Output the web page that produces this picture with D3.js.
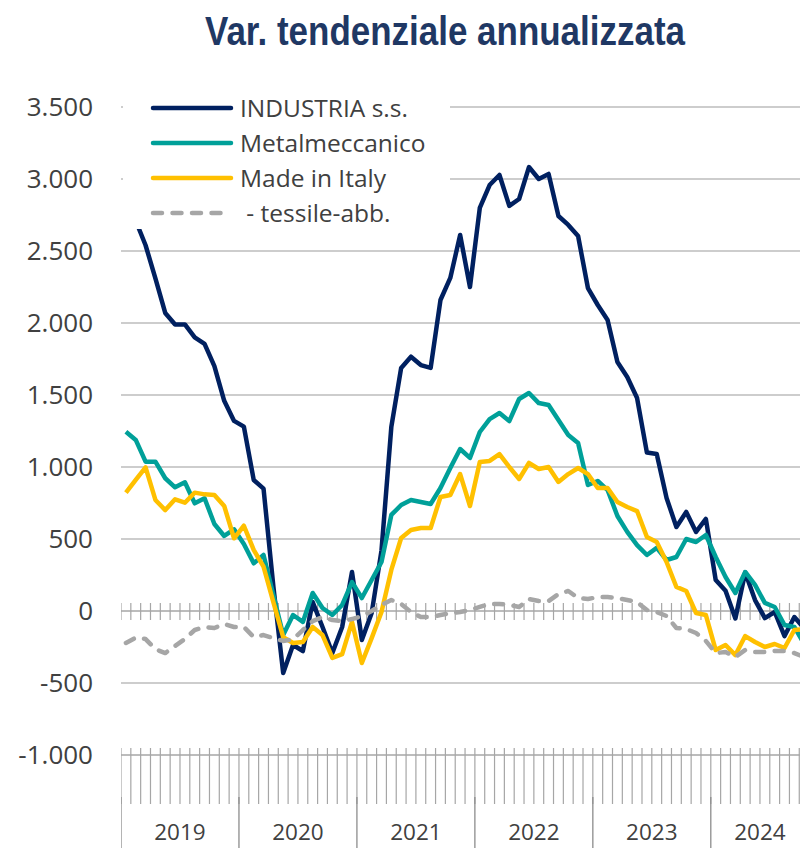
<!DOCTYPE html>
<html>
<head>
<meta charset="utf-8">
<script src="https://cdn.jsdelivr.net/npm/d3@7"></script>
<style>
  body { margin: 0; background: #fff; }
  text { font-family: "Open Sans", "Noto Sans", sans-serif; }
</style>
</head>
<body>
<div id="chart"></div>
<script>
// monthly values, Jan 2019 .. Oct 2024
var industria = [2860, 2710, 2540, 2310, 2070, 1990, 1990, 1900, 1855, 1700, 1460, 1320,
  1280, 910, 850, 170, -430, -236, -278, 62, -111, -292, -111, 271,
  -201, -14, 420, 1278, 1688, 1766, 1708, 1688, 2160, 2313, 2611, 2250,
  2799, 2958, 3028, 2813, 2861, 3083, 3000, 3035, 2743, 2681, 2604, 2243,
  2125, 2021, 1729, 1625, 1479, 1100, 1090, 785, 583, 688, 549, 639,
  215, 140, -52, 268, 76, -49, -7, -174, -42, -120]

var metalmeccanico = [1245, 1188, 1037, 1037, 922, 859, 894, 748, 783, 604, 521, 567,
  465, 331, 389, 111, -167, -28, -76, 125, 21, -28, 42, 201,
  90, 215, 340, 667, 736, 771, 757, 743, 854, 993, 1125, 1063,
  1243, 1333, 1375, 1319, 1472, 1514, 1444, 1431, 1326, 1222, 1167, 875,
  903, 840, 660, 549, 458, 389, 438, 354, 375, 500, 479, 528,
  375, 236, 125, 271, 181, 56, 28, -97, -111, -230]

var madeInItaly = [822, 911, 998, 771, 701, 776, 752, 822, 810, 806, 729, 505,
  592, 424, 308, 62, -181, -222, -215, -111, -167, -326, -299, -76,
  -361, -188, -7, 285, 507, 563, 576, 576, 792, 806, 951, 729,
  1035, 1042, 1090, 1000, 917, 1028, 986, 1000, 896, 951, 993, 951,
  854, 854, 757, 722, 694, 514, 479, 340, 167, 139, -14, -28,
  -271, -236, -306, -174, -215, -250, -229, -257, -132, -125]

var tessile = [-222, -185, -195, -265, -292, -243, -194, -132, -111, -118, -90, -111,
  -111, -181, -167, -188, -208, -197, -132, -70, -42, -63, -70, -56,
  -35, 0, 42, 76, 49, -7, -42, -42, -28, -14, -7, 7,
  28, 49, 49, 42, 28, 83, 69, 69, 118, 139, 90, 83,
  97, 97, 90, 76, 62, 7, -7, -35, -118, -125, -153, -208,
  -292, -285, -319, -271, -285, -285, -278, -278, -292, -320]

var years = ["2019", "2020", "2021", "2022", "2023", "2024"]
var yTicks = [3500, 3000, 2500, 2000, 1500, 1000, 500, 0, -500, -1000]
var seriesNames = ["INDUSTRIA s.s.", "Metalmeccanico", "Made in Italy", " - tessile-abb."]

var width = 800,
  height = 848,
  left = 121,
  right = 800,
  monthW = 9.83

var colors = ["#002060", "#00A099", "#FFC000", "#A6A6A6"]
var series = [industria, metalmeccanico, madeInItaly, tessile]

var svg = d3.select("#chart")
  .append("svg")
  .attr("width", width)
  .attr("height", height)

var x = d3.scaleLinear()
  .domain([0, industria.length])
  .range([left, left + industria.length * monthW])

var y = d3.scaleLinear()
  .domain([-1000, 3500])
  .range([755, 107])

var it = d3.formatLocale({ decimal: ",", thousands: ".", grouping: [3], currency: ["", "€"], minus: "-" })
var fmt = it.format(",")

svg.append("defs").append("clipPath")
  .attr("id", "plot")
  .append("rect")
  .attr("x", left)
  .attr("y", 0)
  .attr("width", right - left)
  .attr("height", height)

// title
svg.append("text")
  .attr("x", 445)
  .attr("y", 45)
  .attr("text-anchor", "middle")
  .attr("textLength", 480)
  .attr("lengthAdjust", "spacingAndGlyphs")
  .style("font-family", "'Liberation Sans Narrow', 'Liberation Sans', Arial, sans-serif")
  .style("font-weight", "bold")
  .style("font-size", "41px")
  .attr("fill", "#1F3864")
  .text("Var. tendenziale annualizzata")

// gridlines
svg.append("g")
  .selectAll("line")
  .data(yTicks.filter(function (d) { return d !== 0 && d !== -1000 }))
  .enter()
  .append("line")
  .attr("x1", left)
  .attr("x2", right)
  .attr("y1", function (d) { return y(d) })
  .attr("y2", function (d) { return y(d) })
  .attr("stroke", "#BDBDBD")
  .attr("stroke-width", 1.5)

// y labels
var yAxis = svg.append("g")
  .attr("transform", "translate(93,0)")
  .call(d3.axisLeft(y).tickValues(yTicks).tickFormat(fmt).tickSize(0).tickPadding(0))
yAxis.select(".domain").remove()
yAxis.selectAll("text")
  .style("font-size", "26px")
  .attr("fill", "#404040")

// zero line with month ticks
var months = d3.range(0, industria.length + 1)
var zero = svg.append("g").attr("clip-path", "url(#plot)")
zero.append("line")
  .attr("x1", left).attr("x2", right)
  .attr("y1", y(0)).attr("y2", y(0))
  .attr("stroke", "#A6A6A6").attr("stroke-width", 1.5)
zero.selectAll(".mt")
  .data(months)
  .enter()
  .append("line")
  .attr("x1", function (d) { return x(d) })
  .attr("x2", function (d) { return x(d) })
  .attr("y1", y(0) - 8)
  .attr("y2", y(0) + 9)
  .attr("stroke", "#A6A6A6")
  .attr("stroke-width", 1.2)

// bottom axis
var bottom = svg.append("g").attr("clip-path", "url(#plot)")
bottom.append("line")
  .attr("x1", left).attr("x2", right)
  .attr("y1", y(-1000)).attr("y2", y(-1000))
  .attr("stroke", "#A6A6A6").attr("stroke-width", 1.5)
bottom.selectAll(".bt")
  .data(months)
  .enter()
  .append("line")
  .attr("x1", function (d) { return x(d) })
  .attr("x2", function (d) { return x(d) })
  .attr("y1", y(-1000) - 7)
  .attr("y2", 804)
  .attr("stroke", "#A6A6A6")
  .attr("stroke-width", 1.2)
bottom.selectAll(".yt")
  .data(years)
  .enter()
  .append("line")
  .attr("x1", function (d, i) { return x(i * 12) })
  .attr("x2", function (d, i) { return x(i * 12) })
  .attr("y1", 797)
  .attr("y2", height)
  .attr("stroke", "#8C8C8C")
  .attr("stroke-width", 1.3)

svg.append("g")
  .selectAll("text")
  .data(years)
  .enter()
  .append("text")
  .attr("x", function (d, i) { return (x(i * 12) + x(Math.min(i * 12 + 12, industria.length))) / 2 })
  .attr("y", 840)
  .attr("text-anchor", "middle")
  .style("font-size", "22.5px")
  .attr("fill", "#404040")
  .text(function (d) { return d })

// lines
var line = d3.line()
  .x(function (d, i) { return x(i + 0.5) })
  .y(function (d) { return y(d) })

var plot = svg.append("g").attr("clip-path", "url(#plot)")
series.forEach(function (s, k) {
  plot.append("path")
    .datum(s)
    .attr("d", line)
    .attr("fill", "none")
    .attr("stroke", colors[k])
    .attr("stroke-width", 4.5)
    .attr("stroke-linejoin", "round")
    .attr("stroke-linecap", k === 3 ? "round" : "butt")
    .attr("stroke-dasharray", k === 3 ? "9,10.5" : null)
})

// legend
var legend = svg.append("g")
legend.append("rect")
  .attr("x", 123)
  .attr("y", 90)
  .attr("width", 327)
  .attr("height", 139)
  .attr("fill", "#fff")

var items = legend.selectAll(".item")
  .data(seriesNames)
  .enter()
  .append("g")
  .attr("transform", function (d, i) { return "translate(0," + (108 + i * 35) + ")" })

items.append("line")
  .attr("x1", 153)
  .attr("x2", 231)
  .attr("stroke", function (d, i) { return colors[i] })
  .attr("stroke-width", 4.5)
  .attr("stroke-linecap", "round")
  .attr("stroke-dasharray", function (d, i) { return i === 3 ? "9,10.5" : null })

items.append("text")
  .attr("x", 240)
  .attr("dy", "0.35em")
  .style("font-size", "24.5px")
  .style("white-space", "pre")
  .attr("fill", "#404040")
  .text(function (d) { return d })
</script>
</body>
</html>
